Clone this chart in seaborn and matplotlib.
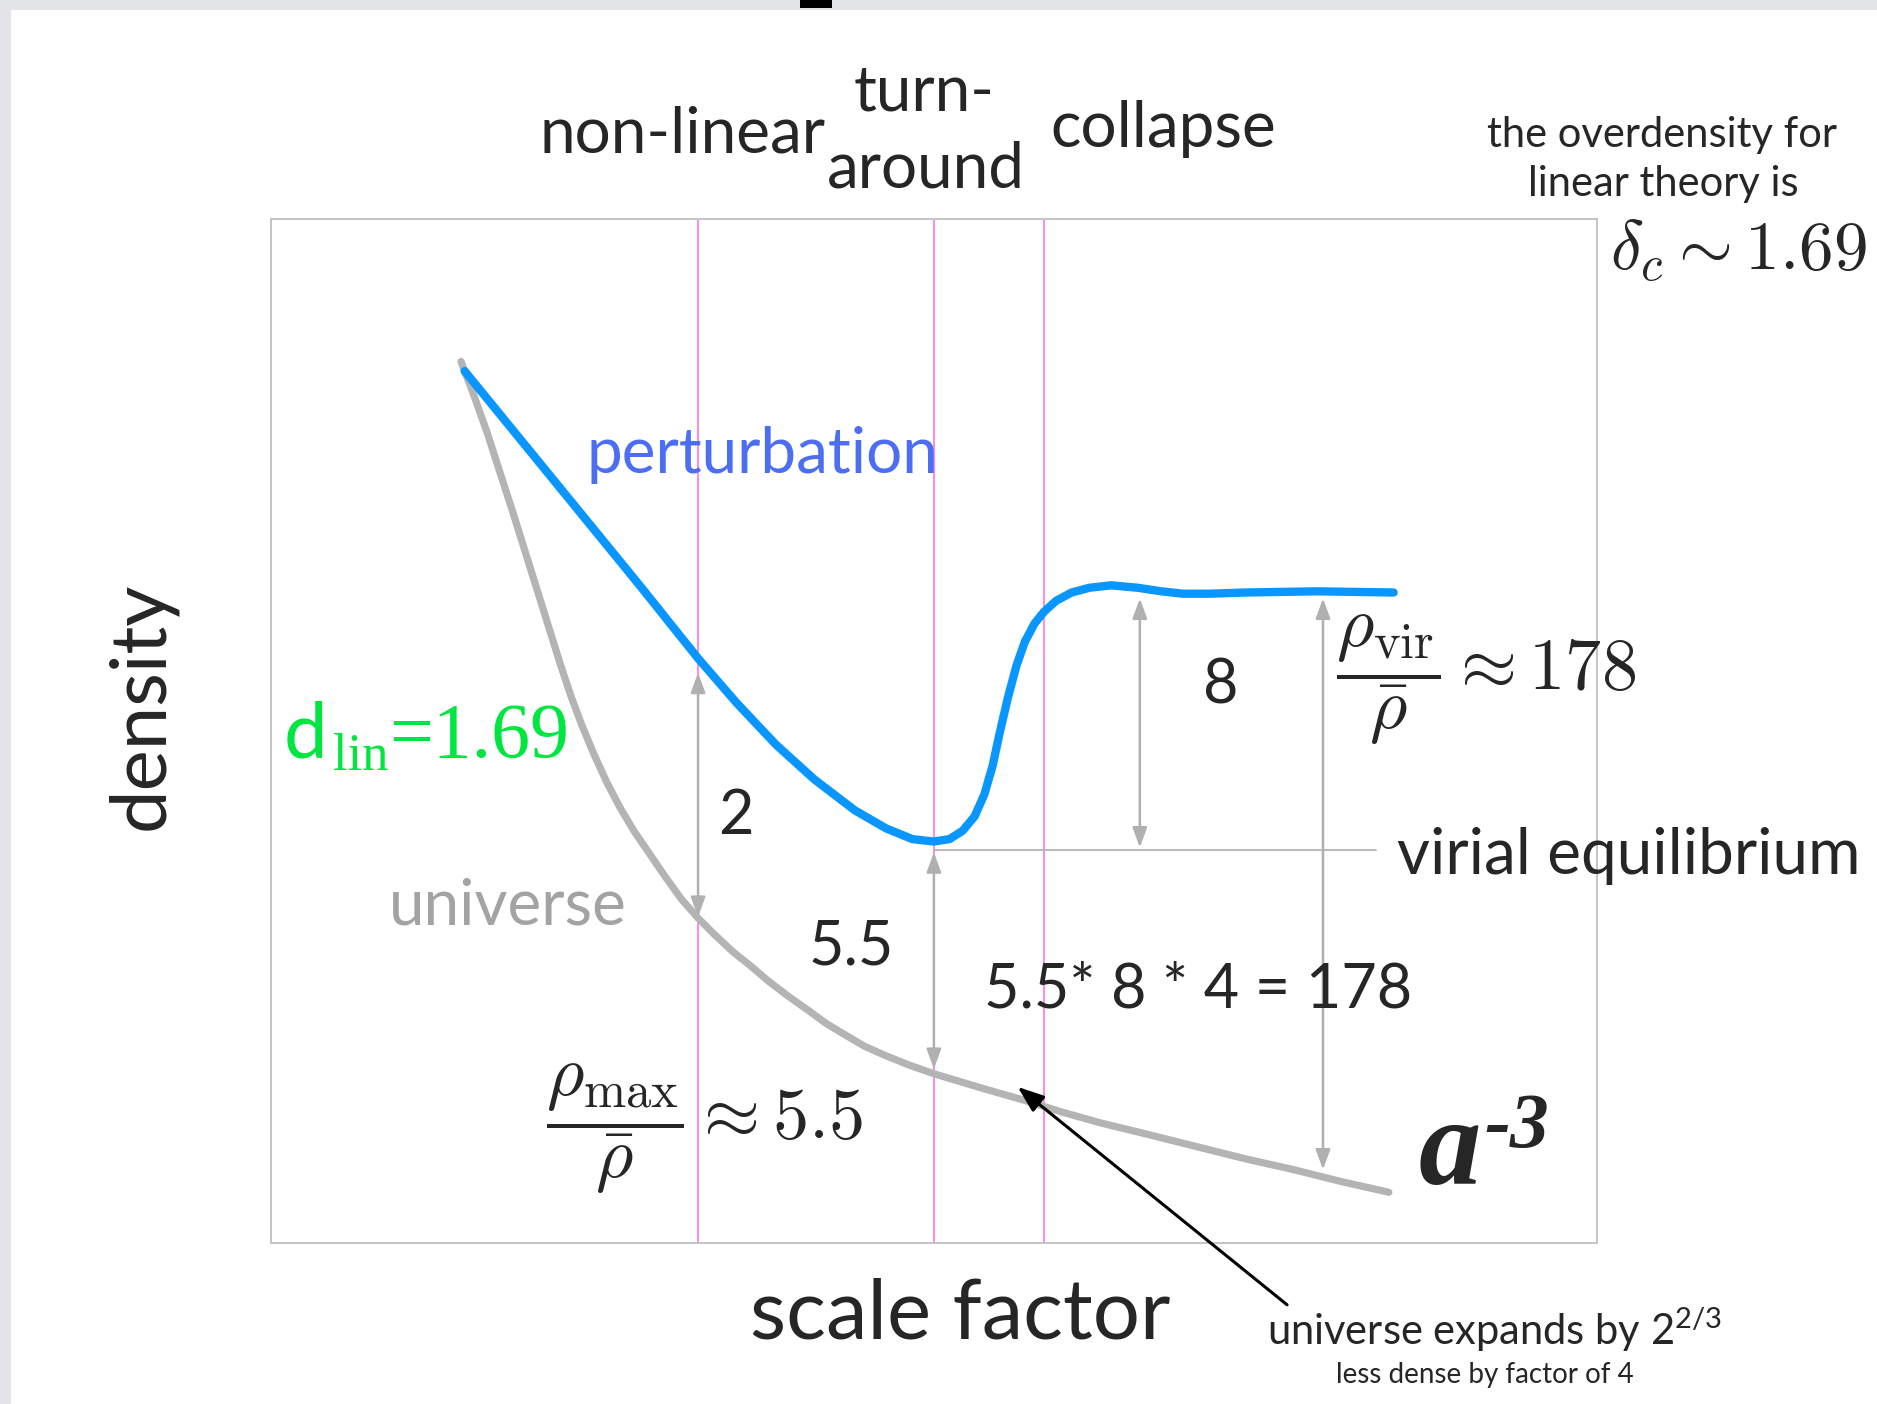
import numpy as np
import pandas as pd
import matplotlib
matplotlib.use('Agg')
import matplotlib.pyplot as plt
import seaborn as sns
from matplotlib.patches import Rectangle

# curves (x = scale factor, y = density, arbitrary units)
blue_x = [162, 211, 260, 309, 357, 389, 422, 454, 488, 514, 536, 554, 567, 578, 588, 596, 603,
          609, 616, 623, 630, 638, 646, 656, 669, 684, 702, 724, 744, 762, 784, 814, 874, 938]
blue_y = [728, 668, 608, 548, 488, 451, 416, 387, 361, 346, 337, 335, 337, 344, 356, 374, 398,
          426, 456, 482, 502, 517, 527, 536, 543, 547, 549, 547, 544, 542, 542, 543, 544, 543]
grey_x = [159, 170, 181, 191, 202, 212, 222, 232, 242, 251, 260, 270, 281, 292, 304, 317, 330,
          343, 357, 371, 386, 401, 415, 432, 449, 464, 479, 496, 514, 534, 554, 574, 594, 629,
          661, 693, 734, 774, 814, 854, 894, 934]
grey_y = [736, 707, 676, 645, 611, 579, 547, 515, 483, 456, 432, 408, 384, 363, 343, 324, 305,
          287, 271, 257, 243, 231, 219, 206, 194, 183, 174, 164, 156, 148, 141, 135, 129, 119,
          109, 100, 90, 80, 70, 61, 51, 42]

# epochs (pink verticals): non-linear, turn-around, collapse
epoch_x = [357, 554, 646]

# double arrows between the curves
arrow_x = [357, 554, 726, 879]
arrow_top = [476, 326, 538, 538]
arrow_bottom = [272, 145, 330, 61]
virial_level = 328
virial_end = 923

blue = '#0a96ff'
grey = '#b4b4b4'
pink = '#ff80e6'

sns.set_theme(style='white')
plt.rcParams['font.family'] = ['Lato', 'DejaVu Sans']
plt.rcParams['mathtext.fontset'] = 'custom'
plt.rcParams['mathtext.rm'] = 'Lato'
plt.rcParams['mathtext.it'] = 'Lato:italic'

fig = plt.figure(figsize=(18.77, 14.04), dpi=100, facecolor='#e3e4e7')
fig.add_artist(Rectangle((11/1877, 0), 1, 1 - 10/1404, transform=fig.transFigure,
                         facecolor='white', edgecolor='none', zorder=0))
fig.add_artist(Rectangle((800/1877, 1 - 8/1404), 32/1877, 8/1404, transform=fig.transFigure,
                         facecolor='black', edgecolor='none', zorder=1))

ax = fig.add_axes([0.1442, 0.115, 0.7067, 0.729])
ax.set_facecolor('none')
ax.set_xlim(0, 1108)
ax.set_ylim(0, 855)
ax.set_xticks([])
ax.set_yticks([])
for s in ax.spines.values():
    s.set_color('#c4c4c4')
    s.set_linewidth(1.4)

for x in epoch_x:
    ax.axvline(x, color=pink, lw=1.3, zorder=1)

ax.plot([epoch_x[1], virial_end], [virial_level, virial_level], color=grey, lw=1.3, zorder=1)

for x, top, bot in zip(arrow_x, arrow_top, arrow_bottom):
    ax.annotate('', xy=(x, bot), xytext=(x, top),
                arrowprops=dict(arrowstyle='<|-|>,head_length=0.6,head_width=0.22',
                                color='#b0b0b0', lw=1.8, mutation_scale=20, shrinkA=0, shrinkB=0),
                zorder=2)

sns.lineplot(x=grey_x, y=grey_y, color=grey, lw=5.2, ax=ax, zorder=3,
             solid_joinstyle='round')
sns.lineplot(x=blue_x, y=blue_y, color=blue, lw=6, ax=ax, zorder=4,
             solid_joinstyle='round')

# black arrow from the footnote to the universe curve
ax.annotate('', xy=(624, 130), xytext=(849, -52),
            arrowprops=dict(arrowstyle='-|>,head_length=0.8,head_width=0.3', color='black',
                            lw=2.2, mutation_scale=20, shrinkA=0, shrinkB=0),
            annotation_clip=False, zorder=5)

# labels
big = 46
ax.text(344, 910.5, 'non-linear', fontsize=big, ha='center', va='baseline')
ax.text(546, 946, 'turn-', fontsize=big, ha='center', va='baseline')
ax.text(547.5, 881, 'around', fontsize=big, ha='center', va='baseline')
ax.text(745.5, 915.5, 'collapse', fontsize=big, ha='center', va='baseline')
ax.text(1162.5, 915.5, 'the overdensity for', fontsize=30, ha='center', va='baseline')
ax.text(1163.5, 874, 'linear theory is', fontsize=30, ha='center', va='baseline')
ax.text(1119, 812.4, r'$\delta_c \sim 1.69$', fontsize=50, ha='left', va='baseline',
        math_fontfamily='cm')

ax.text(-108, 448, 'density', fontsize=56, rotation=90, ha='center', va='center')
ax.text(576, -80, 'scale factor', fontsize=60, ha='center', va='baseline')

ax.text(411, 643, 'perturbation', fontsize=big, color='#4b6ef5', ha='center', va='baseline')
ax.text(198.5, 266, 'universe', fontsize=big, color='#a3a3a3', ha='center', va='baseline')

green = '#00e640'
ax.text(11, 405.5, 'd', fontsize=56, color=green, ha='left', va='baseline')
ax.text(52, 395, 'lin', fontsize=38, color=green, family='Liberation Serif',
        ha='left', va='baseline')
ax.text(99, 405.5, '=1.69', fontsize=56, color=green, family='Liberation Serif',
        ha='left', va='baseline')

ax.text(389, 341.5, '2', fontsize=44, ha='center', va='baseline')
ax.text(485, 232, '5.5', fontsize=44, ha='center', va='baseline')
ax.text(794, 450, '8', fontsize=44, ha='center', va='baseline')
ax.text(596, 196, '5.5* 8 * 4 = 178', fontsize=44, ha='left', va='baseline')

ax.text(362.5, 86, r'$\dfrac{\rho_{\mathrm{max}}}{\bar{\rho}} \approx 5.5$', fontsize=52,
        ha='center', va='baseline', math_fontfamily='cm')
ax.text(1015, 461, r'$\dfrac{\rho_{\mathrm{vir}}}{\bar{\rho}} \approx 178$', fontsize=52,
        ha='center', va='baseline', math_fontfamily='cm')

ax.text(941, 308, 'virial equilibrium', fontsize=big, ha='left', va='baseline')

ax.text(959, 49, 'a', fontsize=90, family='Liberation Serif', style='italic',
        weight='bold', ha='left', va='baseline')
ax.text(1014, 80, '-3', fontsize=56, family='Liberation Serif', style='italic',
        weight='bold', ha='left', va='baseline')

ax.text(832, -85.6, r'universe expands by $2^{2/3}$', fontsize=30, ha='left', va='baseline')
ax.text(1014, -117, 'less dense by factor of 4', fontsize=20, ha='center', va='baseline')

fig.savefig('out.png', dpi=100, facecolor=fig.get_facecolor())
